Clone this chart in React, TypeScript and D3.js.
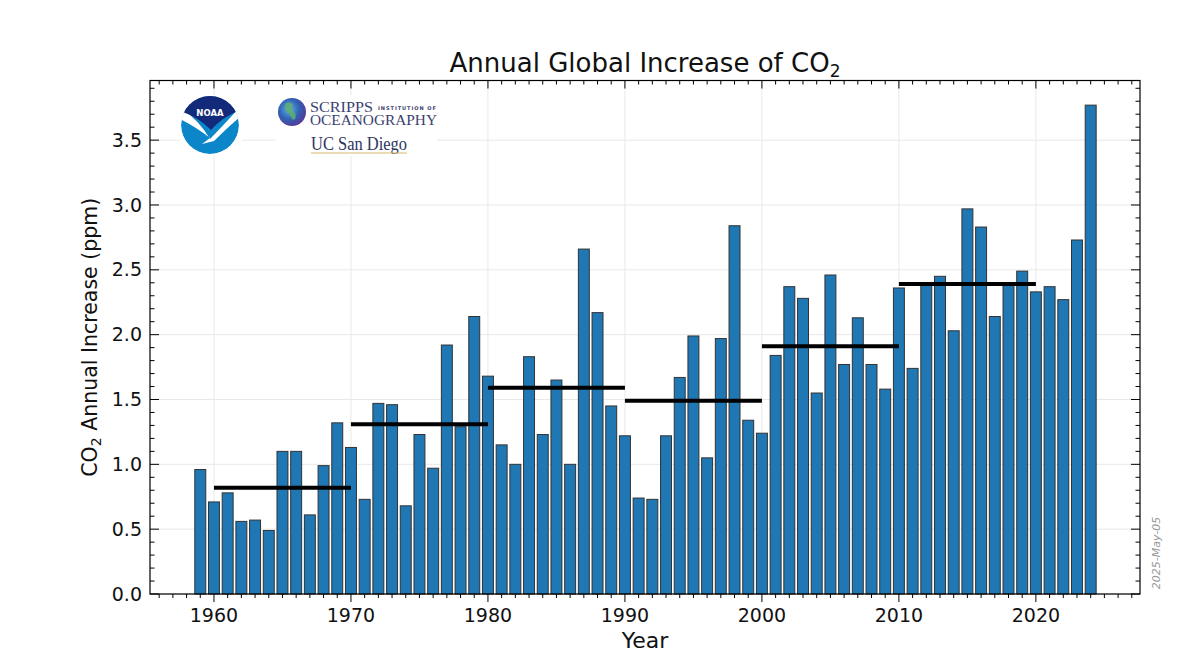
import * as d3 from "d3";

// data
const YEARS = [
  1959, 1960, 1961, 1962, 1963, 1964, 1965, 1966, 1967, 1968, 1969,
  1970, 1971, 1972, 1973, 1974, 1975, 1976, 1977, 1978, 1979,
  1980, 1981, 1982, 1983, 1984, 1985, 1986, 1987, 1988, 1989,
  1990, 1991, 1992, 1993, 1994, 1995, 1996, 1997, 1998, 1999,
  2000, 2001, 2002, 2003, 2004, 2005, 2006, 2007, 2008, 2009,
  2010, 2011, 2012, 2013, 2014, 2015, 2016, 2017, 2018, 2019,
  2020, 2021, 2022, 2023, 2024,
];
const INCREASE = [
  0.96, 0.71, 0.78, 0.56, 0.57, 0.49, 1.1, 1.1, 0.61, 0.99, 1.32,
  1.13, 0.73, 1.47, 1.46, 0.68, 1.23, 0.97, 1.92, 1.29, 2.14,
  1.68, 1.15, 1.0, 1.83, 1.23, 1.65, 1.0, 2.66, 2.17, 1.45,
  1.22, 0.74, 0.73, 1.22, 1.67, 1.99, 1.05, 1.97, 2.84, 1.34,
  1.24, 1.84, 2.37, 2.28, 1.55, 2.46, 1.77, 2.13, 1.77, 1.58,
  2.36, 1.74, 2.4, 2.45, 2.03, 2.97, 2.83, 2.14, 2.39, 2.49,
  2.33, 2.37, 2.27, 2.73, 3.77,
];
const DECADE_START = [1960, 1970, 1980, 1990, 2000, 2010];
const DECADE_MEAN = [0.82, 1.31, 1.59, 1.49, 1.91, 2.39];
const X_TICKS = [1960, 1970, 1980, 1990, 2000, 2010, 2020];
const Y_TICKS = [0, 0.5, 1.0, 1.5, 2.0, 2.5, 3.0, 3.5];

const W = 1200;
const H = 667;
const FONT = "DejaVu Sans, sans-serif";
const SERIF = "Liberation Serif, serif";

export default function App() {
  // scales
  const x = d3.scaleLinear().domain([1955.33, 2027.6]).range([150, 1140]);
  const y = d3.scaleLinear().domain([0, 3.96]).range([594, 80.5]);
  const [x0, x1] = x.range();
  const [y0, y1] = y.range();

  const xMinor = d3.range(1956, 2028).filter((t) => t % 10 !== 0);
  const yMinor = d3
    .range(0, 3.95, 0.1)
    .filter((t) => Math.abs(t * 2 - Math.round(t * 2)) > 1e-6);
  const bw = 0.8;

  return (
    <svg
      width={W}
      height={H}
      viewBox={`0 0 ${W} ${H}`}
      style={{ position: "absolute", left: 0, top: 0, background: "#fff" }}
      fontFamily={FONT}
    >
      <defs>
        <clipPath id="noaaClip">
          <circle r={29} />
        </clipPath>
        <radialGradient id="globe" cx="40%" cy="40%" r="65%">
          <stop offset="0%" stopColor="#5fb4e6" />
          <stop offset="55%" stopColor="#2f62b5" />
          <stop offset="100%" stopColor="#5b3696" />
        </radialGradient>
      </defs>

      {/* title */}
      <text x={(x0 + x1) / 2} y={72} textAnchor="middle" fontSize={26} fill="#111">
        Annual Global Increase of CO
        <tspan fontSize={17} dy={5}>2</tspan>
      </text>

      {/* grid */}
      <g stroke="#e8e8e8" strokeWidth={1}>
        {X_TICKS.map((t) => (
          <line key={t} x1={x(t)} x2={x(t)} y1={y1} y2={y0} />
        ))}
        {Y_TICKS.map((t) => (
          <line key={t} x1={x0} x2={x1} y1={y(t)} y2={y(t)} />
        ))}
      </g>

      {/* logos */}
      <rect x={180} y={95} width={62} height={60} fill="#fff" />
      <rect x={276} y={95} width={161} height={61} fill="#fff" />
      <g transform="translate(210,125)">
        <g clipPath="url(#noaaClip)">
          <circle r={29} fill="#0b87c9" />
          <path
            d="M-30,-17 Q-12,-6 0,14 Q12,2 30,-18 L30,-8 Q16,4 4,16 L-8,19 L0,13 Q-14,2 -30,-6 Z"
            fill="#fff"
          />
          <path d="M-30,-30 H30 V-15 Q12,-8 1,5 Q-12,-8 -30,-14 Z" fill="#13297a" />
        </g>
        <text y={-9} textAnchor="middle" fontSize={8.5} fontWeight="bold" fill="#fff">
          NOAA
        </text>
      </g>
      <g>
        <circle cx={292} cy={112} r={14} fill="url(#globe)" />
        <path
          d="M286,103 q5,-2 7,2 q-2,4 1,7 q3,3 1,7 q-3,2 -4,-2 q-2,-4 -5,-6 q-2,-4 0,-8 Z"
          fill="#5fae6e"
          opacity={0.85}
        />
        <text
          x={310}
          y={111.5}
          fontFamily={SERIF}
          fontSize={15}
          fill="#3b4170"
          textLength={63}
          lengthAdjust="spacingAndGlyphs"
        >
          SCRIPPS
        </text>
        <text
          x={378}
          y={110}
          fontSize={5}
          fontWeight="bold"
          fill="#3b4170"
          textLength={58}
        >
          INSTITUTION OF
        </text>
        <text
          x={310}
          y={125}
          fontFamily={SERIF}
          fontSize={14}
          fill="#3b4170"
          textLength={127}
          lengthAdjust="spacingAndGlyphs"
        >
          OCEANOGRAPHY
        </text>
        <text
          x={311}
          y={150}
          fontFamily={SERIF}
          fontSize={18}
          fill="#2e3560"
          textLength={96}
          lengthAdjust="spacingAndGlyphs"
        >
          UC San Diego
        </text>
        <line x1={311} x2={407} y1={153} y2={153} stroke="#d9b96a" strokeWidth={1} />
      </g>

      {/* bars */}
      <g>
        {YEARS.map((yr, i) => (
          <rect
            key={yr}
            x={x(yr - bw / 2)}
            width={x(yr + bw / 2) - x(yr - bw / 2)}
            y={y(INCREASE[i])}
            height={y(0) - y(INCREASE[i])}
            fill="#1f77b4"
            stroke="#333"
            strokeWidth={1}
          />
        ))}
      </g>

      {/* decade means */}
      <g stroke="#000" strokeWidth={4}>
        {DECADE_START.map((d, i) => (
          <line
            key={d}
            x1={x(d)}
            x2={x(d + 10)}
            y1={y(DECADE_MEAN[i])}
            y2={y(DECADE_MEAN[i])}
          />
        ))}
      </g>

      {/* frame */}
      <rect
        x={x0}
        y={y1}
        width={x1 - x0}
        height={y0 - y1}
        fill="none"
        stroke="#000"
        strokeWidth={1.2}
      />

      {/* ticks */}
      <g stroke="#000" strokeWidth={1}>
        {X_TICKS.map((t) => (
          <g key={t}>
            <line x1={x(t)} x2={x(t)} y1={y0} y2={y0 + 8} />
            <line x1={x(t)} x2={x(t)} y1={y1} y2={y1 + 8} />
          </g>
        ))}
        {xMinor.map((t) => (
          <g key={t}>
            <line x1={x(t)} x2={x(t)} y1={y0} y2={y0 + 4} />
            <line x1={x(t)} x2={x(t)} y1={y1} y2={y1 + 4} />
          </g>
        ))}
        {Y_TICKS.map((t) => (
          <g key={t}>
            <line x1={x0} x2={x0 + 9} y1={y(t)} y2={y(t)} />
            <line x1={x1} x2={x1 - 9} y1={y(t)} y2={y(t)} />
          </g>
        ))}
        {yMinor.map((t) => (
          <g key={t}>
            <line x1={x0} x2={x0 + 4.5} y1={y(t)} y2={y(t)} />
            <line x1={x1} x2={x1 - 4.5} y1={y(t)} y2={y(t)} />
          </g>
        ))}
      </g>

      {/* tick labels */}
      <g fontSize={19} fill="#111">
        {X_TICKS.map((t) => (
          <text key={t} x={x(t)} y={622} textAnchor="middle">
            {t}
          </text>
        ))}
        {Y_TICKS.map((t) => (
          <text key={t} x={142} y={y(t)} dy="0.35em" textAnchor="end">
            {t.toFixed(1)}
          </text>
        ))}
      </g>

      {/* axis labels */}
      <text x={(x0 + x1) / 2} y={648} textAnchor="middle" fontSize={22} fill="#111">
        Year
      </text>
      <text
        transform={`translate(97,${(y0 + y1) / 2}) rotate(-90)`}
        textAnchor="middle"
        fontSize={20.5}
        fill="#111"
      >
        CO
        <tspan fontSize={14} dy={4}>2</tspan>
        <tspan dy={-4}> Annual Increase (ppm)</tspan>
      </text>

      {/* date stamp */}
      <text
        transform="translate(1160,553) rotate(-90)"
        textAnchor="middle"
        fontSize={11}
        fontStyle="italic"
        fill="#999"
      >
        2025-May-05
      </text>
    </svg>
  );
}
